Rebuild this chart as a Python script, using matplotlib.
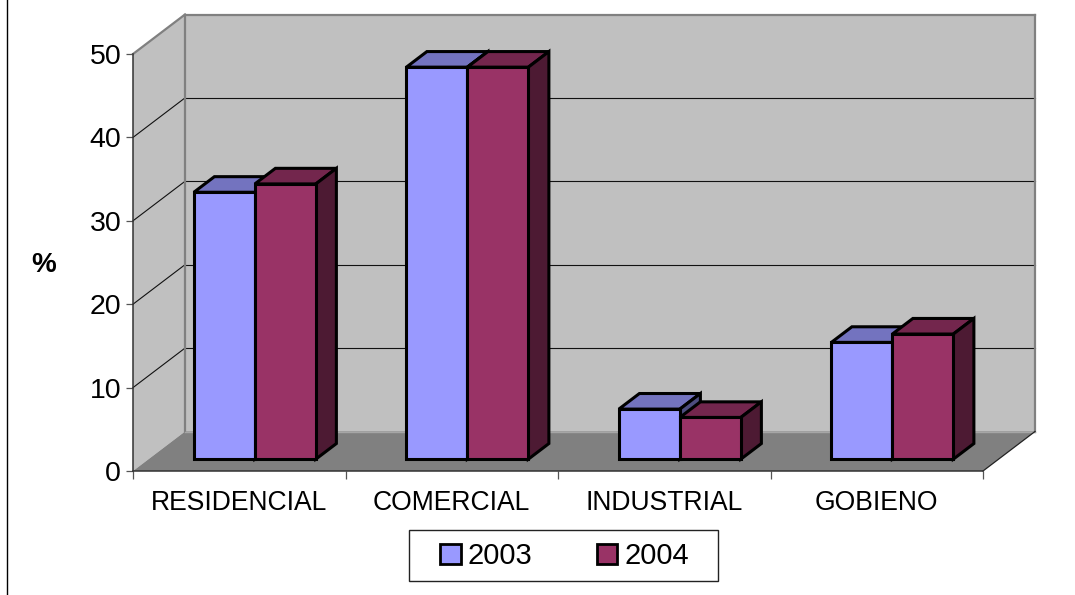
import matplotlib
matplotlib.use("Agg")
import matplotlib.pyplot as plt
from matplotlib.patches import Polygon, Patch, Rectangle
from matplotlib.lines import Line2D

categories = ["RESIDENCIAL", "COMERCIAL", "INDUSTRIAL", "GOBIENO"]
series_names = ["2003", "2004"]
values_2003 = [32, 47, 6, 14]
values_2004 = [33, 47, 5, 15]
y_ticks = [0, 10, 20, 30, 40, 50]

plt.rcParams["font.family"] = ["Liberation Sans", "DejaVu Sans"]

W, H = 1075, 595
fig = plt.figure(figsize=(W / 100, H / 100), dpi=100, facecolor="white")
ax = fig.add_axes([133 / W, (H - 471) / H, 850 / W, 417 / H])
ax.set_xlim(0, len(categories))
ax.set_ylim(0, y_ticks[-1])
ax.patch.set_visible(False)

# oblique projection of the fake-3D chart box (depth 0 = front, 1 = back)
DX = 52 / 212.5
DY = 39.5 / 8.34


def proj(x, y, d=0.0):
    return (x + d * DX, y + d * DY)


def face(pts, color, lw=0.0, ec="none", z=1):
    ax.add_patch(Polygon([proj(*p) for p in pts], closed=True, facecolor=color,
                         edgecolor=ec, linewidth=lw, joinstyle="miter",
                         clip_on=False, zorder=z))


def line(p0, p1, color, lw, z=2):
    a, b = proj(*p0), proj(*p1)
    ax.add_line(Line2D([a[0], b[0]], [a[1], b[1]], color=color, linewidth=lw,
                       clip_on=False, zorder=z, solid_capstyle="projecting"))


xmax, ymax = len(categories), y_ticks[-1]
WALL, FLOOR, EDGE = "#C0C0C0", "#808080", "#808080"

# walls and floor
face([(0, 0, 1), (xmax, 0, 1), (xmax, ymax, 1), (0, ymax, 1)], WALL)
face([(0, 0, 0), (0, 0, 1), (0, ymax, 1), (0, ymax, 0)], WALL)
face([(0, 0, 0), (xmax, 0, 0), (xmax, 0, 1), (0, 0, 1)], FLOOR)

# gridlines
for t in y_ticks[1:-1]:
    line((0, t, 0), (0, t, 1), "#111111", 0.8)
    line((0, t, 1), (xmax, t, 1), "#111111", 0.8)

# wall outlines
line((0, ymax, 0), (0, ymax, 1), EDGE, 1.6)
line((0, ymax, 1), (xmax, ymax, 1), EDGE, 1.6)
line((0, 0, 1), (0, ymax, 1), EDGE, 1.6)
line((xmax, 0, 1), (xmax, ymax, 1), EDGE, 1.6)
line((0, 0, 1), (xmax, 0, 1), "#A6A6A6", 1.0)
line((xmax, 0, 0), (xmax, 0, 1), "#222222", 0.9)

# bars
BAR_W = 0.287
GAP = (1 - 2 * BAR_W) / 2
D0, D1 = 0.30, 0.695
styles = [("#9999FF", "#7373BF", "#4D4D80"), ("#993366", "#73264D", "#4D1A33")]
z = 5
for i in range(len(categories)):
    for j, vals in enumerate([values_2003, values_2004]):
        x0 = i + GAP + j * BAR_W
        x1 = x0 + BAR_W
        v = vals[i]
        front, top, side = styles[j]
        kw = dict(lw=2.2, ec="black")
        face([(x0, v, D0), (x1, v, D0), (x1, v, D1), (x0, v, D1)], top, z=z, **kw)
        face([(x1, 0, D0), (x1, 0, D1), (x1, v, D1), (x1, v, D0)], side, z=z, **kw)
        face([(x0, 0, D0), (x1, 0, D0), (x1, v, D0), (x0, v, D0)], front, z=z + 0.5, **kw)
        z += 1

# axes furniture
for s in ("top", "right"):
    ax.spines[s].set_visible(False)
for s in ("left", "bottom"):
    ax.spines[s].set_color("#333333")
    ax.spines[s].set_linewidth(1.1)
    ax.spines[s].set_zorder(3)

ax.set_yticks(y_ticks)
ax.tick_params(axis="y", which="major", length=5, width=0.9, color="#555555",
               labelsize=20.5, pad=3.5, labelcolor="black")
ax.set_xticks(range(len(categories) + 1))
ax.set_xticklabels([])
ax.set_xticks([i + 0.5 for i in range(len(categories))], minor=True)
ax.set_xticklabels(categories, minor=True, fontsize=19.1)
ax.tick_params(axis="x", which="major", length=6, width=0.9, color="#555555")
ax.tick_params(axis="x", which="minor", length=0, pad=13.5)
ax.set_ylabel("%", rotation=0, fontsize=20, fontweight="bold", va="center", ha="center")
ax.yaxis.set_label_coords((44 - 133) / 850, (471 - 265) / 417)

# legend: box drawn separately because its side padding exceeds the vertical padding
fig.add_artist(Rectangle((408.5 / W, 1 - 581 / H), 309.5 / W, 51 / H, facecolor="white",
                         edgecolor="#222222", linewidth=1.0, transform=fig.transFigure))
handles = [Patch(facecolor=styles[k][0], edgecolor="black", linewidth=2.0) for k in range(2)]
leg = fig.legend(handles, series_names, ncol=2, fontsize=21, frameon=False,
                 handlelength=0.7, handleheight=0.7,
                 handletextpad=0.24, columnspacing=2.2, borderpad=0, borderaxespad=0,
                 loc="center", bbox_to_anchor=(564.5 / W, 1 - 556 / H))
leg.set_zorder(5)

# outer frame fragment on the left
fig.add_artist(Line2D([6.5 / W, 6.5 / W], [0, 1], color="black", linewidth=1.0,
                      transform=fig.transFigure))

fig.savefig("out.png", dpi=100)
